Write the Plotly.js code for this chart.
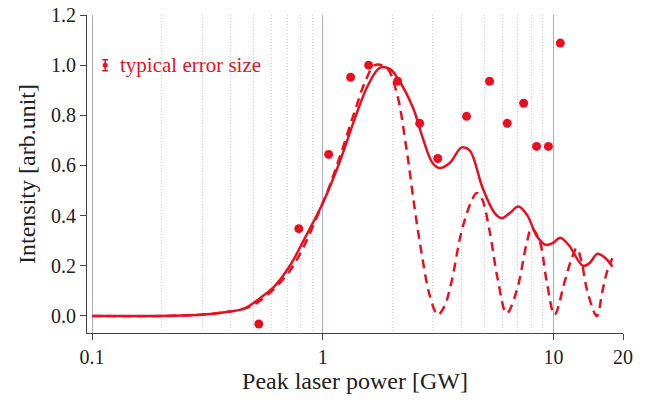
<!DOCTYPE html>
<html>
<head>
<meta charset="utf-8">
<script src="https://cdn.plot.ly/plotly-3.0.1.min.js"></script>
<style>html,body{margin:0;padding:0;background:#fff;}#plot{width:647px;height:401px;}</style>
</head>
<body>
<div id="plot"></div>
<script>
// Measured data points
var dataX = [0.528, 0.787, 1.06, 1.32, 1.58, 2.11, 2.63, 3.15, 4.2, 5.28, 6.3, 7.42, 8.44, 9.5, 10.7];
var dataY = [-0.032, 0.348, 0.644, 0.952, 1.0, 0.936, 0.768, 0.628, 0.796, 0.936, 0.768, 0.848, 0.676, 0.676, 1.088];

// Solid curve
var solidX = [0.1, 0.178, 0.294, 0.377, 0.459, 0.533, 0.62, 0.72, 0.836, 1.0, 1.19, 1.38, 1.57, 1.77, 1.95, 2.11, 2.46, 2.71, 2.99, 3.21, 3.55, 4.0, 4.33, 4.93, 5.56, 5.96, 6.46, 7.05, 7.71, 8.44, 9.23, 9.9, 10.7, 11.7, 13.4, 14.3, 15.5, 16.8, 18.0];
var solidY = [0, 0.0, 0.005, 0.015, 0.03, 0.07, 0.12, 0.2, 0.31, 0.45, 0.62, 0.79, 0.92, 0.99, 0.985, 0.948, 0.83, 0.71, 0.61, 0.59, 0.61, 0.672, 0.66, 0.51, 0.41, 0.39, 0.41, 0.436, 0.4, 0.32, 0.284, 0.29, 0.312, 0.28, 0.2, 0.21, 0.248, 0.23, 0.196];

// Dashed curve
var dashX = [0.1, 0.294, 0.459, 0.533, 0.72, 1.0, 1.19, 1.38, 1.52, 1.68, 1.89, 2.09, 2.31, 2.5, 2.68, 2.91, 3.15, 3.37, 3.62, 4.0, 4.42, 4.64, 4.88, 5.28, 5.72, 6.26, 6.92, 7.65, 8.03, 8.69, 9.33, 10.1, 11.2, 12.0, 12.6, 13.2, 14.0, 15.4, 16.3, 17.1, 18.0];
var dashY = [0, 0.005, 0.03, 0.06, 0.18, 0.45, 0.64, 0.82, 0.93, 1.0, 0.99, 0.89, 0.66, 0.43, 0.25, 0.08, 0.005, 0.04, 0.14, 0.34, 0.46, 0.49, 0.47, 0.34, 0.15, 0.01, 0.1, 0.29, 0.35, 0.3, 0.14, 0.005, 0.14, 0.23, 0.27, 0.22, 0.1, 0.0, 0.1, 0.18, 0.23];

// Typical error marker
var errX = [0.114];
var errY = [1.0];
var errSize = [0.022];

var xTickVals = [0.1, 1, 10, 20];
var xTickText = ["0.1", "1", "10", "20"];
var minorVals = [0.2,0.3,0.4,0.5,0.6,0.7,0.8,0.9,2,3,4,5,6,7,8,9,20];
var yTickVals = [0.0, 0.2, 0.4, 0.6, 0.8, 1.0, 1.2];

var red = 'rgb(232,16,30)';
var font = "'Liberation Serif', 'Times New Roman', serif";

var traces = [
  {x: solidX, y: solidY, mode: 'lines', line: {color: red, width: 2.5, shape: 'spline', smoothing: 1}, hoverinfo: 'skip'},
  {x: dashX, y: dashY, mode: 'lines', line: {color: red, width: 2.5, dash: '9px,6px', shape: 'spline', smoothing: 1}, hoverinfo: 'skip'},
  {x: dataX, y: dataY, mode: 'markers', marker: {color: red, size: 9}},
  {x: errX, y: errY, mode: 'markers', marker: {color: red, size: 5},
   error_y: {type: 'data', array: errSize, visible: true, color: red, thickness: 1.5, width: 3}}
];

var layout = {
  width: 647, height: 401,
  margin: {l: 87, r: 24, t: 15, b: 68},
  paper_bgcolor: '#fff', plot_bgcolor: '#fff',
  showlegend: false,
  font: {family: font, color: '#222', size: 20},
  xaxis: {
    type: 'log', range: [-1.022, Math.log10(20)],
    tickmode: 'array', tickvals: xTickVals, ticktext: xTickText,
    ticks: 'outside', ticklen: 6, tickcolor: '#444', tickwidth: 1,
    showline: true, linecolor: '#444', linewidth: 1,
    showgrid: true, gridcolor: 'rgb(170,170,215)', gridwidth: 1,
    zeroline: false,
    minor: {tickmode: 'array', tickvals: minorVals, showgrid: true, gridcolor: 'rgb(200,200,235)', griddash: '1px,2px', gridwidth: 1, ticks: ''},
    tickfont: {family: font, size: 20, color: '#222'},
    title: {text: 'Peak laser power [GW]', font: {family: font, size: 24, color: '#222'}, standoff: 5},
    automargin: false
  },
  yaxis: {
    range: [-0.068, 1.2],
    tickmode: 'array', tickvals: yTickVals, tickformat: '.1f',
    ticks: 'outside', ticklen: 6, tickcolor: '#444', tickwidth: 1,
    showline: true, linecolor: '#444', linewidth: 1,
    showgrid: false, zeroline: false,
    tickfont: {family: font, size: 20, color: '#222'},
    title: {text: 'Intensity [arb.unit]', font: {family: font, size: 24, color: '#222'}, standoff: 8},
    automargin: false
  },
  annotations: [
    {x: Math.log10(0.13), y: 1.0, xref: 'x', yref: 'y', text: 'typical error size', showarrow: false,
     xanchor: 'left', yanchor: 'middle', font: {family: font, size: 21, color: red}}
  ]
};

Plotly.newPlot('plot', traces, layout, {displayModeBar: false, staticPlot: true});
</script>
</body>
</html>
